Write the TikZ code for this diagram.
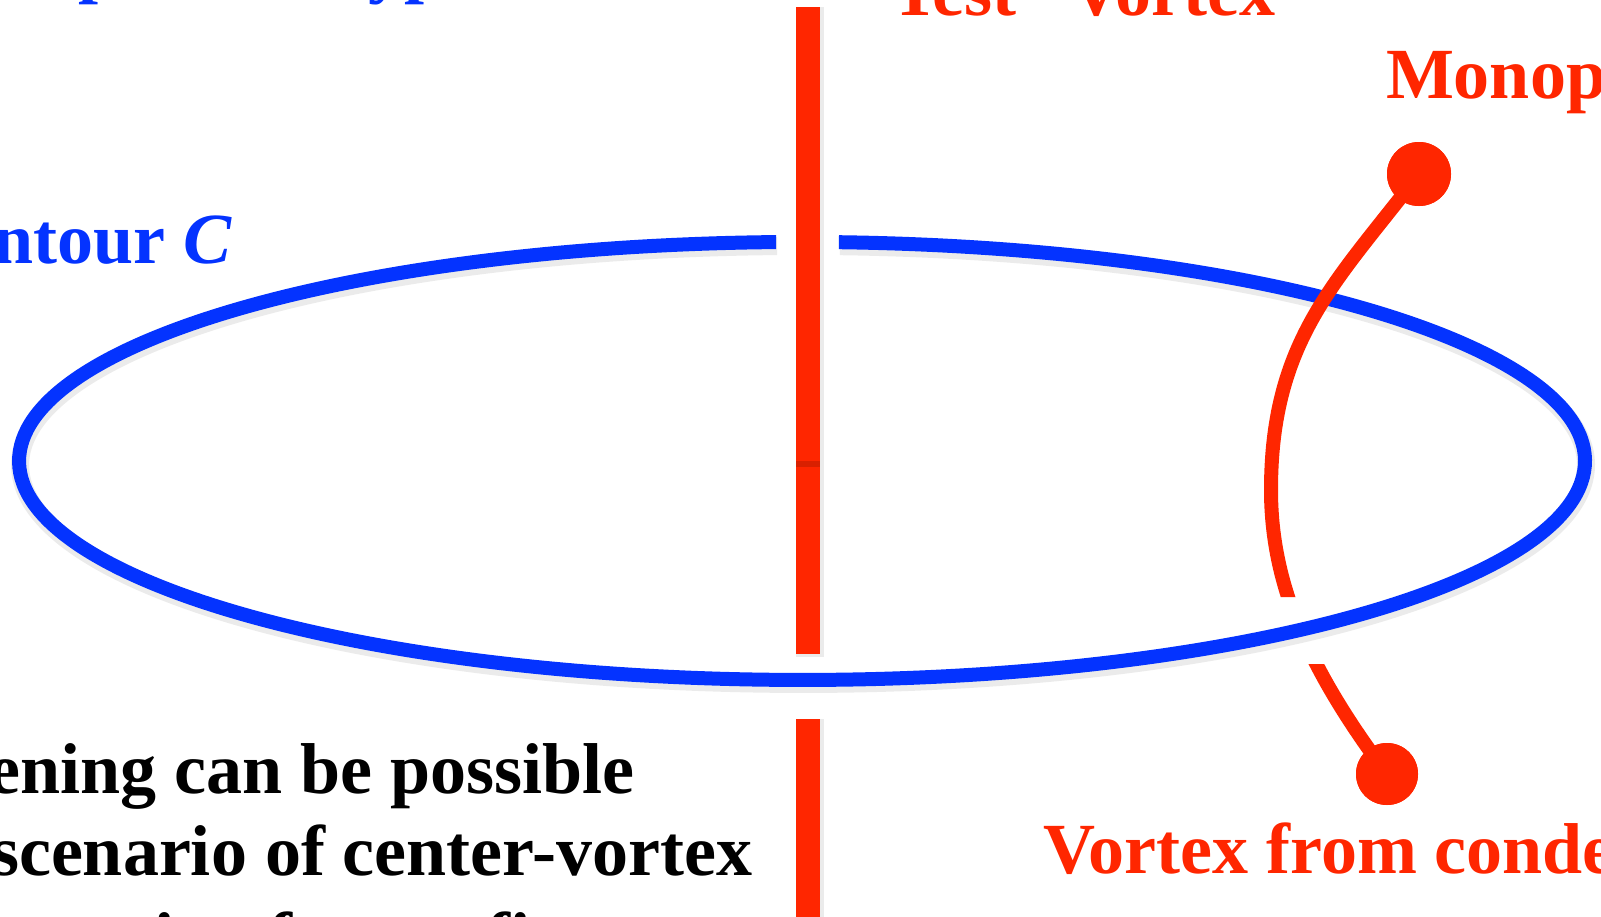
\documentclass[tikz,border=0pt]{standalone}
\usepackage{fontspec}
\setmainfont{Liberation Serif}
\definecolor{kred}{RGB}{255,38,0}
\definecolor{kblue}{RGB}{4,51,255}
\begin{document}
\begin{tikzpicture}[x=1pt,y=-1pt,
  every node/.style={inner sep=0pt,outer sep=0pt},
  lbl/.style={font=\fontsize{72}{82}\selectfont\bfseries},
  dotnode/.style={circle,fill=kred,draw=none},
  loopline/.style={kblue,line width=14},
  vline/.style={kred,line width=24},
  cline/.style={kred,line width=14},
  shadowline/.style={black,opacity=0.08}]
\clip (0,0) rectangle (1601,916);
\fill[white] (0,0) rectangle (1601,916);
% coordinates
\coordinate (ell) at (838.9,242.2);
\coordinate (ttop) at (808,7);
\coordinate (tmid) at (808,654);
\coordinate (bstart) at (808,719);
\coordinate (bend) at (808,930);
\coordinate (vmid) at (1271,490);
% shadows
\draw[shadowline,line width=18] ([shift={(1,4)}]ell) arc[start angle=272.7,end angle=628.1,x radius=783,y radius=219];
\draw[shadowline,line width=28] ([shift={(2,0)}]ttop) -- ([shift={(2,3)}]tmid);
\draw[shadowline,line width=28] ([shift={(2,0)}]bstart) -- ([shift={(2,0)}]bend);
% blue contour
\draw[loopline] (ell) arc[start angle=272.7,end angle=628.1,x radius=783,y radius=219];
% test vortex
\draw[vline] (ttop) -- (tmid);
\draw[vline] (bstart) -- (bend);
\fill[black,opacity=0.15] (796,461) rectangle (820,467);
% monopole dots
\node[dotnode,minimum size=64pt] (mtop) at (1419,174) {};
\node[dotnode,minimum size=62pt] (mbot) at (1387,774) {};
% vortex from condensed monopoles
\begin{scope}
\clip (1150,0) rectangle (1500,597) (1150,664) rectangle (1500,916);
\draw[cline] (mtop.center) .. controls (1336,282) and (1271,340) .. (vmid)
  .. controls (1271,580) and (1305,665) .. (mbot.center);
\end{scope}
\node[dotnode,minimum size=64pt] at (mtop) {};
\node[dotnode,minimum size=62pt] at (mbot) {};
% labels
\node[lbl,text=kblue,anchor=base west] (toptxt) at (-246,-11) {Wilson loop of this type};
\node[lbl,text=kblue,anchor=base east] (contour) at (232,263) {Contour \textit{C}};
\node[lbl,text=kred,anchor=base west] (test) at (855,15) {``Test'' Vortex};
\node[lbl,text=kred,anchor=base west] (mono) at (1386,98) {Monopole};
\node[lbl,text=kred,anchor=base west] (vfc) at (1043,873) {Vortex from condensed monopoles};
\node[lbl,anchor=base east] (l1) at (635,793) {Screening can be possible};
\node[lbl,anchor=base east] (l2) at (752,875) {in the scenario of center-vortex};
\node[lbl,anchor=base east] (l3) at (758,962) {generation for confinement};
\end{tikzpicture}
\end{document}
